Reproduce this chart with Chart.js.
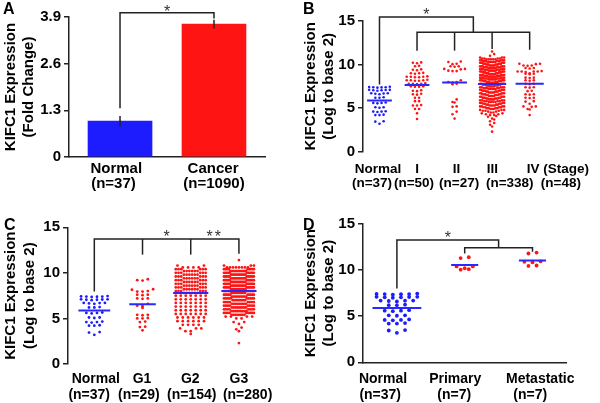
<!DOCTYPE html>
<html>
<head>
<meta charset="utf-8">
<script src="https://cdn.jsdelivr.net/npm/chart.js@4.4.0/dist/chart.umd.min.js"></script>
<style>
  body { margin: 0; background: #fff; }
  #wrap { position: relative; width: 600px; height: 403px; }
  canvas { position: absolute; }
</style>
</head>
<body>
<div id="wrap">
  <canvas id="cA" width="300" height="200" style="left:0;top:0"></canvas>
  <canvas id="cB" width="300" height="200" style="left:300px;top:0"></canvas>
  <canvas id="cC" width="300" height="203" style="left:0;top:200px"></canvas>
  <canvas id="cD" width="300" height="203" style="left:300px;top:200px"></canvas>
</div>
<script>
// ---- data ----
const catsA = ['Normal', 'Cancer'];
const nA = ['(n=37)', '(n=1090)'];
const barA = [1.0, 3.70];
const errA = [0.14, 0.12];
const yTicksA = [0, 1.3, 2.6, 3.9];

const catsB = ['Normal', 'I', 'II', 'III', 'IV (Stage)'];
const nB = ['(n=37)', '(n=50)', '(n=27)', '(n=338)', '(n=48)'];
const catsC = ['Normal', 'G1', 'G2', 'G3'];
const nC = ['(n=37)', '(n=29)', '(n=154)', '(n=280)'];
const catsD = ['Normal', 'Primary', 'Metastatic'];
const nD = ['(n=37)', '(n=7)', '(n=7)'];
const yTicksLog = [0, 5, 10, 15];

const normal = [7.45,7.42,7.4,7.4,7.38,7.35, 7.1,7.1,7.08,7.05,7.05,7.0, 6.7,6.7,6.68,6.65,6.6,
  6.25,6.2,6.2, 5.65,5.6,5.6,5.55, 5.1,5.1,5.05, 4.65,4.6,4.6,4.55, 4.25,4.2,4.2, 3.5,3.45, 3.2];

const stageI = [10.25,10.2,10.15, 9.85,9.8, 9.45,9.4,9.35, 9.05,9.0,9.0,8.95,
  8.65,8.6,8.6,8.6,8.55,8.55, 8.25,8.2,8.2,8.2,8.15,8.15, 7.85,7.8,7.8,7.8,7.75,
  7.5,7.5,7.45,7.45, 7.05,7.0,6.95, 6.65,6.6,6.55, 6.2,6.2, 5.8,5.8, 5.35,5.3,5.3,
  4.9,4.9, 4.4, 3.75];

const stageII = [10.35,10.3, 10.1,10.05, 9.8,9.8,9.75, 9.5,9.5,9.45, 9.3,9.25,9.25, 8.2,
  8.0,8.0,7.95, 7.8,7.75, 6.0, 5.7,5.65, 5.2,5.15, 4.6, 4.3, 3.8];

const stageIII = [11.5, 11.2, 11.0, 10.8,10.8,10.8,
  10.7,10.7,10.7,10.7, 10.6,10.6,10.6,10.6,10.6, 10.5,10.5,10.5,10.5,10.5,
  10.4,10.4,10.4,10.4,10.4,10.4, 10.3,10.3,10.3,10.3,10.3,10.3,
  10.2,10.2,10.2,10.2,10.2,10.2, 10.1,10.1,10.1,10.1,10.1,10.1,
  10.0,10.0,10.0,10.0,10.0,10.0,
  9.9,9.9,9.9,9.9,9.9,9.9, 9.8,9.8,9.8,9.8,9.8,9.8, 9.7,9.7,9.7,9.7,9.7,9.7,
  9.6,9.6,9.6,9.6,9.6,9.6, 9.5,9.5,9.5,9.5,9.5,9.5, 9.4,9.4,9.4,9.4,9.4,9.4,
  9.3,9.3,9.3,9.3,9.3,9.3, 9.2,9.2,9.2,9.2,9.2,9.2, 9.1,9.1,9.1,9.1,9.1,9.1,
  9.0,9.0,9.0,9.0,9.0,9.0,
  8.9,8.9,8.9,8.9,8.9,8.9, 8.8,8.8,8.8,8.8,8.8,8.8, 8.7,8.7,8.7,8.7,8.7,8.7,
  8.6,8.6,8.6,8.6,8.6,8.6, 8.5,8.5,8.5,8.5,8.5,8.5, 8.4,8.4,8.4,8.4,8.4,8.4,
  8.3,8.3,8.3,8.3,8.3,8.3, 8.2,8.2,8.2,8.2,8.2,8.2, 8.1,8.1,8.1,8.1,8.1,8.1,
  8.0,8.0,8.0,8.0,8.0,8.0,
  7.9,7.9,7.9,7.9,7.9, 7.8,7.8,7.8,7.8,7.8, 7.7,7.7,7.7,7.7,7.7, 7.6,7.6,7.6,7.6,7.6,
  7.5,7.5,7.5,7.5,7.5, 7.4,7.4,7.4,7.4,7.4, 7.3,7.3,7.3,7.3,7.3, 7.2,7.2,7.2,7.2,7.2,
  7.1,7.1,7.1,7.1,7.1, 7.0,7.0,7.0,7.0,7.0,
  6.9,6.9,6.9,6.9,6.9, 6.8,6.8,6.8,6.8,6.8, 6.7,6.7,6.7,6.7,6.7, 6.6,6.6,6.6,6.6,6.6,
  6.5,6.5,6.5,6.5,6.5, 6.4,6.4,6.4,6.4,6.4, 6.3,6.3,6.3,6.3,6.3, 6.2,6.2,6.2,6.2,6.2,
  6.1,6.1,6.1,6.1,6.1, 6.0,6.0,6.0,6.0,6.0,
  5.9,5.9,5.9,5.9, 5.8,5.8,5.8,5.8, 5.7,5.7,5.7,5.7, 5.6,5.6,5.6,5.6, 5.5,5.5,5.5,5.5,
  5.4,5.4,5.4,5.4, 5.3,5.3,5.3,5.3, 5.2,5.2,5.2,5.2, 5.1,5.1,5.1,5.1, 5.0,5.0,5.0,5.0,
  4.9,4.9,4.9, 4.8,4.8,4.8, 4.7,4.7,4.7, 4.6,4.6, 4.5,4.5, 4.4,4.4, 4.3,4.3, 4.2,4.2,
  4.1, 4.0, 3.8, 3.7, 3.5, 3.3, 3.1, 2.9, 2.3];

const stageIV = [10.1,10.1,10.05, 9.9,9.9,9.85, 9.6,9.6,9.55, 9.25,9.2,9.2,9.2,9.2,9.15,
  9.0,8.95,8.95,8.9, 8.5,8.5,8.45, 8.2,8.2,8.15, 7.8,7.8,7.75, 7.4,7.4,7.35, 7.0,6.95,
  6.6,6.6,6.55, 6.2,6.2,6.15, 5.8,5.75, 5.5, 5.2,5.2,5.15, 4.9,4.85, 4.2];

const g1 = [9.3,9.2,9.15, 8.2,8.15, 8.0,7.95,7.95, 7.6,7.6,7.55, 7.2,7.2,7.15, 6.6, 6.4,6.35,
  6.15, 5.4,5.4,5.35, 5.05,5.0,5.0, 4.65,4.6, 4.1,4.05, 3.7];

const g2 = [10.8,10.8, 10.6,10.6,10.6,10.6, 10.4,10.4,10.4,10.4,10.4,10.4,
  10.2,10.2,10.2,10.2,10.2,10.2, 10.0,10.0,10.0,10.0,10.0,10.0, 9.8,9.8,9.8,9.8,9.8,9.8,
  9.6,9.6,9.6,9.6,9.6,9.6, 9.4,9.4,9.4,9.4,9.4,9.4, 9.2,9.2,9.2,9.2,9.2,9.2,
  9.0,9.0,9.0,9.0,9.0,9.0, 8.8,8.8,8.8,8.8,8.8,8.8, 8.6,8.6,8.6,8.6,8.6,8.6,
  8.4,8.4,8.4,8.4,8.4,8.4, 8.2,8.2,8.2,8.2,8.2,8.2, 8.0,8.0,8.0,8.0,8.0,8.0,
  7.8,7.8,7.8,7.8,7.8,7.8,
  7.5,7.5,7.5,7.5,7.5,7.5,7.5, 7.1,7.1,7.1,7.1,7.1,7.1,7.1, 6.7,6.7,6.7,6.7,6.7,6.7,6.7,
  6.3,6.3,6.3,6.3,6.3,6.3,6.3, 5.9,5.9,5.9,5.9,5.9,5.9,5.9, 5.5,5.5,5.5,5.5,5.5,5.5,5.5,
  5.1,5.1,5.1,5.1,5.1,5.1, 4.7,4.7,4.7,4.7,4.7,4.7, 4.3,4.3,4.3,4.3, 3.9,3.9,3.9,
  3.6,3.6, 3.3];

const g3 = [11.4, 10.8,10.8,10.8, 10.6,10.6,10.6,10.6,10.6,10.6,10.6,10.6,
  10.4,10.4,10.4,10.4,10.4,10.4,10.4,10.4,10.4,
  10.2,10.2,10.2,10.2,10.2,10.2,10.2,10.2,10.2,10.2,10.2,
  10.0,10.0,10.0,10.0,10.0,10.0,10.0,10.0,10.0,10.0,10.0,
  9.8,9.8,9.8,9.8,9.8,9.8,9.8,9.8,9.8,9.8,9.8,
  9.6,9.6,9.6,9.6,9.6,9.6,9.6,9.6,9.6,9.6,9.6,
  9.4,9.4,9.4,9.4,9.4,9.4,9.4,9.4,9.4,9.4,9.4,
  9.2,9.2,9.2,9.2,9.2,9.2,9.2,9.2,9.2,9.2,9.2,
  9.0,9.0,9.0,9.0,9.0,9.0,9.0,9.0,9.0,9.0,9.0,
  8.8,8.8,8.8,8.8,8.8,8.8,8.8,8.8,8.8,8.8,8.8,
  8.6,8.6,8.6,8.6,8.6,8.6,8.6,8.6,8.6,8.6,8.6,
  8.4,8.4,8.4,8.4,8.4,8.4,8.4,8.4,8.4,8.4,8.4,
  8.2,8.2,8.2,8.2,8.2,8.2,8.2,8.2,8.2,8.2,8.2,
  8.0,8.0,8.0,8.0,8.0,8.0,8.0,8.0,8.0,8.0,8.0,
  7.8,7.8,7.8,7.8,7.8,7.8,7.8,7.8,7.8,7.8, 7.6,7.6,7.6,7.6,7.6,7.6,7.6,7.6,7.6,7.6,
  7.4,7.4,7.4,7.4,7.4,7.4,7.4,7.4,7.4,7.4, 7.2,7.2,7.2,7.2,7.2,7.2,7.2,7.2,7.2,7.2,
  7.0,7.0,7.0,7.0,7.0,7.0,7.0,7.0, 6.8,6.8,6.8,6.8,6.8,6.8,6.8,6.8,
  6.6,6.6,6.6,6.6,6.6,6.6,6.6,6.6, 6.4,6.4,6.4,6.4,6.4,6.4,6.4,6.4,
  6.2,6.2,6.2,6.2,6.2,6.2,6.2,6.2, 6.0,6.0,6.0,6.0,6.0,6.0,6.0,6.0,
  5.8,5.8,5.8,5.8,5.8,5.8,5.8,5.8,5.8, 5.6,5.6,5.6,5.6,5.6,5.6,5.6,5.6,5.6,
  5.4,5.4,5.4,5.4,5.4,5.4,5.4,5.4, 5.2,5.2,5.2,5.2, 5.0,5.0,
  4.6,4.6, 4.4, 4.0, 3.8, 3.6, 2.3];

const primary = [11.4, 11.3, 10.4, 10.4, 10.2, 10.1, 10.05];
const metastatic = [11.9, 11.8, 10.95, 10.9, 10.85, 10.5, 10.45];

// ---- styles ----
Chart.defaults.font.family = '"Liberation Sans", Arial, sans-serif';
Chart.defaults.color = '#000';
const AXIS = '#222';
const BLUE = 'rgb(28,28,255)';
const RED = 'rgb(255,20,20)';
const MEAN = 'rgb(40,40,255)';

// beeswarm layout: close values share a row, lowest in the middle (chevrons)
function swarm(vals, xc, dx, maxW, bin) {
  const s = vals.slice().sort((a, b) => b - a);
  const rows = [];
  s.forEach(v => {
    const r = rows[rows.length - 1];
    if (r && r[0] - v < bin) r.push(v); else rows.push([v]);
  });
  const pts = [];
  let half = 0;
  rows.forEach(r => {
    r.sort((a, b) => a - b);
    const k = r.length;
    const step = k > 1 ? Math.min(dx, maxW / (k - 1)) : 0;
    half = Math.max(half, step * (k - 1) / 2);
    const slots = [];
    for (let j = 0; j < k; j++) slots.push((j - (k - 1) / 2) * step);
    slots.sort((a, b) => Math.abs(a) - Math.abs(b) || a - b);
    r.forEach((v, i) => pts.push({ x: xc + slots[i], y: v }));
  });
  return { pts, half };
}

function dotSets(groups, colors, dx, maxW, rad) {
  const means = [], dots = [];
  groups.forEach((vals, i) => {
    const sw = swarm(vals, i, dx, maxW, 0.3);
    const m = vals.reduce((a, b) => a + b, 0) / vals.length;
    const hw = Math.max(sw.half + dx / 2, 0.2);
    means.push({ data: [{ x: i - hw, y: m }, { x: i + hw, y: m }], showLine: true,
      borderColor: MEAN, borderWidth: 2, pointRadius: 0 });
    dots.push({ data: sw.pts, backgroundColor: colors[i], borderWidth: 0, pointRadius: rad });
  });
  return means.concat(dots);
}

function xAxis(min, max, pos, labels, h, pad, line, weight, size) {
  return {
    type: 'linear', axis: 'x', position: 'bottom', weight: weight, min: min, max: max,
    offset: false,
    afterFit: s => { s.height = h; },
    afterBuildTicks: s => { s.ticks = pos.map(v => ({ value: v })); },
    ticks: { autoSkip: false, maxRotation: 0, minRotation: 0, padding: pad, color: '#000',
      font: { size: size, weight: 'bold', lineHeight: 1 }, callback: (v, i) => labels[i] },
    grid: { display: false, drawTicks: false, offset: false },
    border: { display: line, color: AXIS, width: 1.5 }
  };
}

function yAxis(min, max, ticks, title, w, lh) {
  return {
    min: min, max: max,
    afterFit: s => { s.width = w; },
    afterBuildTicks: s => { s.ticks = ticks.map(v => ({ value: v })); },
    ticks: { padding: 3, color: '#000', font: { size: 15, weight: 'bold' }, callback: v => String(v) },
    grid: { display: true, drawOnChartArea: false, tickLength: 5, color: AXIS, lineWidth: 1.5 },
    border: { display: true, color: AXIS, width: 1.5 },
    title: { display: true, text: title, color: '#000', padding: { top: 1, bottom: 0 },
      font: { size: 15, weight: 'bold', lineHeight: lh } }
  };
}

function marks(cfg) {
  return {
    id: 'marks',
    afterDatasetsDraw(chart) {
      const { ctx } = chart;
      const x = chart.scales.x, y = chart.scales.y;
      ctx.save();
      ctx.strokeStyle = AXIS;
      ctx.lineWidth = 1.5;
      cfg.lines.forEach(path => {
        ctx.beginPath();
        path.forEach((p, i) => {
          const X = x.getPixelForValue(p[0]), Y = y.getPixelForValue(p[1]);
          if (i) ctx.lineTo(X, Y); else ctx.moveTo(X, Y);
        });
        ctx.stroke();
      });
      ctx.fillStyle = '#333';
      ctx.font = '16px "Liberation Sans", Arial, sans-serif';
      ctx.textAlign = 'center';
      ctx.textBaseline = 'alphabetic';
      cfg.stars.forEach(s => {
        ctx.letterSpacing = s[2].length > 1 ? '2px' : '0px';
        ctx.fillText(s[2], x.getPixelForValue(s[0]), y.getPixelForValue(s[1]) + 9);
      });
      ctx.letterSpacing = '0px';
      ctx.fillStyle = '#000';
      ctx.font = 'bold 16px "Liberation Sans", Arial, sans-serif';
      ctx.textAlign = 'left';
      ctx.fillText(cfg.letter, cfg.lx, cfg.ly);
      ctx.restore();
    }
  };
}

function baseOptions(pad) {
  return {
    responsive: false, animation: false, events: [],
    layout: { padding: pad },
    plugins: { legend: { display: false }, tooltip: { enabled: false } }
  };
}

const logTitle = ['KIFC1 Expression', '(Log to base 2)'];

// ---- A: bar chart ----
const optA = baseOptions({ left: 0, top: 17, right: 35, bottom: 0 });
optA.scales = {
  x: xAxis(-0.543, 1.543, [-0.04, 0.99], catsA, 19, 4.5, true, 0, 15),
  x2: xAxis(-0.543, 1.543, [-0.07, 1.0], nA, 24, 0, false, 1, 15),
  y: yAxis(0, 3.9, yTicksA, ['KIFC1 Expression', '(Fold Change)'], 69, 1.25)
};
new Chart(document.getElementById('cA'), {
  type: 'bar',
  data: { datasets: [{ data: barA.map((v, i) => ({ x: i, y: v })),
    backgroundColor: [BLUE, RED], barThickness: 64 }] },
  options: optA,
  plugins: [marks({
    lines: [[[0, 1.36], [0, 4.02], [1, 4.02], [1, 3.86]]].concat(
      barA.map((v, i) => [[i, v - errA[i]], [i, v + errA[i]]])),
    stars: [[0.5, 4.15, '*']], letter: 'A', lx: 3, ly: 14
  })]
});

// ---- B: stage ----
const optB = baseOptions({ left: 0, top: 21, right: 4, bottom: 0 });
optB.scales = {
  x: xAxis(-0.439, 5.574, [-0.04, 1.0, 2.05, 3.01, 4.75], catsB, 24, 10.5, false, 0, 13.5),
  x2: xAxis(-0.439, 5.574, [-0.2, 0.92, 2.12, 3.47, 4.83], nB, 24.3, 0.8, false, 1, 13.5),
  y: yAxis(0, 15, yTicksLog, logTitle, 63, 1.25)
};
new Chart(document.getElementById('cB'), {
  type: 'scatter',
  data: { datasets: dotSets([normal, stageI, stageII, stageIII, stageIV],
    [BLUE, RED, RED, RED, RED], 0.11, 0.64, 1.3) },
  options: optB,
  plugins: [marks({
    lines: [[[0, 7.7], [0, 15.45], [2.5, 15.45], [2.5, 13.7]],
      [[1, 11.6], [1, 13.7], [4, 13.7], [4, 11.7]],
      [[2, 13.7], [2, 11.6]], [[3, 13.7], [3, 11.8]]],
    stars: [[1.25, 16.15, '*']], letter: 'B', lx: 3, ly: 14
  })]
});

// ---- C: grade ----
const optC = baseOptions({ left: 0, top: 27.3, right: 4, bottom: 0 });
optC.scales = {
  x: xAxis(-0.546, 4.184, [0.03, 0.99, 1.99, 3.0], catsC, 23, 8, false, 0, 14),
  x2: xAxis(-0.546, 4.184, [-0.106, 0.925, 2.02, 3.18], nC, 16, 1, false, 1, 14),
  y: yAxis(0, 15, yTicksLog, logTitle, 68, 1.3)
};
new Chart(document.getElementById('cC'), {
  type: 'scatter',
  data: { datasets: dotSets([normal, g1, g2, g3], [BLUE, RED, RED, RED], 0.11, 0.62, 1.4) },
  options: optC,
  plugins: [marks({
    lines: [[[0, 7.95], [0, 13.72], [3, 13.72], [3, 12.1]],
      [[1, 13.72], [1, 12.0]], [[2, 13.72], [2, 12.0]]],
    stars: [[1.5, 14.35, '*'], [2.5, 14.35, '**']], letter: 'C', lx: 4, ly: 30
  })]
});

// ---- D: primary vs metastatic ----
const optD = baseOptions({ left: 0, top: 24, right: 33.6, bottom: 0 });
optD.scales = {
  x: xAxis(-0.5, 2.5, [-0.205, 0.86, 2.114], catsD, 25, 9.7, true, 0, 14),
  x2: xAxis(-0.5, 2.5, [-0.246, 0.845, 1.966], nD, 15.7, 0.7, false, 1, 14),
  y: yAxis(0, 15, yTicksLog, logTitle, 63, 1.25)
};
new Chart(document.getElementById('cD'), {
  type: 'scatter',
  data: { datasets: dotSets([normal, primary, metastatic], [BLUE, RED, RED], 0.12, 0.66, 1.9) },
  options: optD,
  plugins: [marks({
    lines: [[[0, 8.0], [0, 13.26], [1.5, 13.26], [1.5, 12.43]],
      [[1, 11.8], [1, 12.43], [2, 12.43], [2, 12.0]]],
    stars: [[0.75, 13.9, '*']], letter: 'D', lx: 3, ly: 30
  })]
});
</script>
</body>
</html>
